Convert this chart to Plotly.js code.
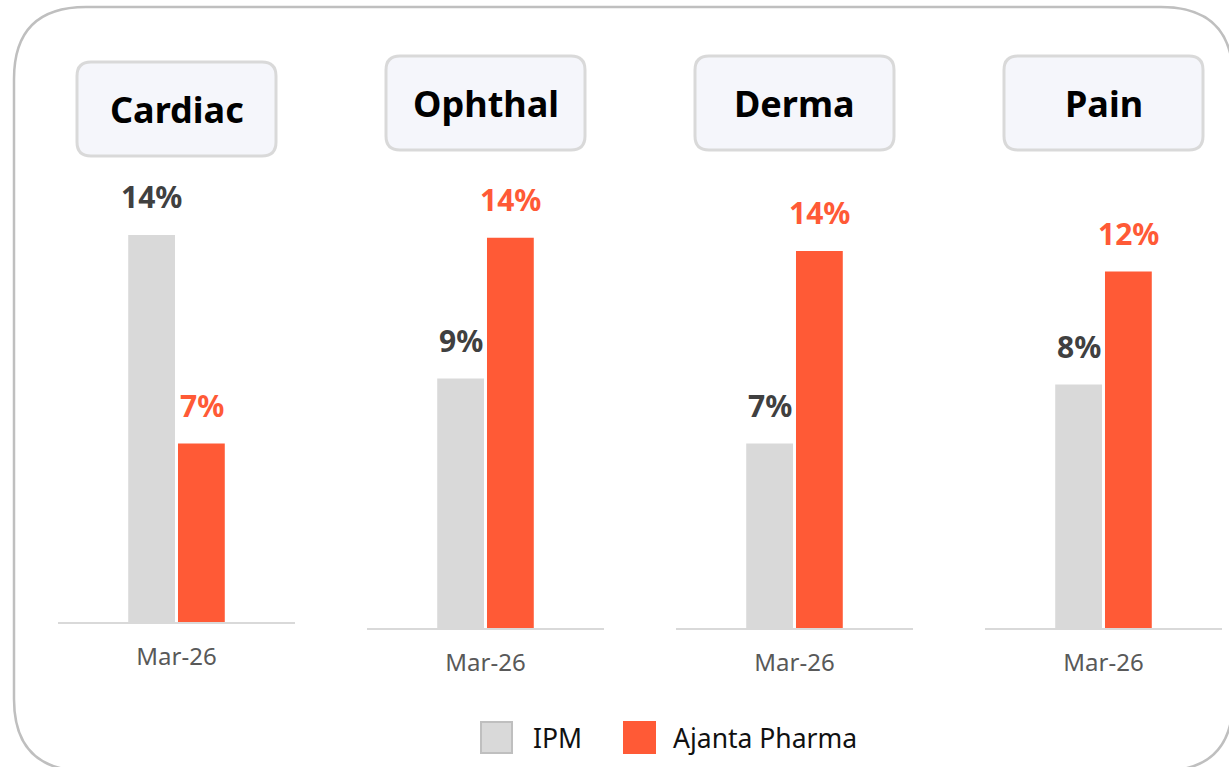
<!DOCTYPE html>
<html>
<head>
<meta charset="utf-8">
<script src="https://cdn.plot.ly/plotly-3.0.1.min.js"></script>
<style>
  html, body { margin: 0; padding: 0; background: #fff; }
  #chart { width: 1229px; height: 767px; }
</style>
</head>
<body>
<div id="chart"></div>
<script>
// data
const segments = ['Cardiac', 'Ophthal', 'Derma', 'Pain'];
const period = ['Mar-26'];
const ipmGrowth = [14.1, 9.2, 6.8, 8.4];
const ajantaGrowth = [6.5, 14.4, 13.9, 12.3];
const seriesNames = ['IPM', 'Ajanta Pharma'];

// panel geometry (pixels)
const W = 1229, H = 767;
const axisLeft = [58, 367, 676, 985];
const axisRight = [295, 604, 913, 1222];
const baseY = [622, 628, 628, 628];
const topY = 165;
const yMax = [16.65, 17.08, 17.07, 15.98];
const boxLeft = [77, 386, 695, 1004];
const boxTop = [62, 56, 56, 56];
const boxW = 199, boxH = 94;

const ipmColor = '#d9d9d9';
const ajantaColor = '#ff5a36';
const font = 'Noto Sans, Open Sans, sans-serif';

const px = x => x / W;
const py = y => 1 - y / H;

function roundRect(x0, y0, x1, y1, r) {
    const p = (x, y) => px(x) + ',' + py(y);
    return 'M' + p(x0 + r, y0) + ' L' + p(x1 - r, y0) + ' Q' + p(x1, y0) + ' ' + p(x1, y0 + r) +
        ' L' + p(x1, y1 - r) + ' Q' + p(x1, y1) + ' ' + p(x1 - r, y1) +
        ' L' + p(x0 + r, y1) + ' Q' + p(x0, y1) + ' ' + p(x0, y1 - r) +
        ' L' + p(x0, y0 + r) + ' Q' + p(x0, y0) + ' ' + p(x0 + r, y0) + ' Z';
}

const traces = [];
const annotations = [];
const shapes = [];
const layout = {
    width: W, height: H,
    margin: { l: 0, r: 0, t: 0, b: 0 },
    paper_bgcolor: '#fff',
    plot_bgcolor: 'rgba(0,0,0,0)',
    barmode: 'group',
    bargap: 0.58,
    bargroupgap: 0.06,
    showlegend: false,
    font: { family: font }
};

// outer frame
shapes.push({
    type: 'path', xref: 'paper', yref: 'paper', layer: 'below',
    path: roundRect(14, 7, 1233, 771, 72),
    line: { color: '#bfbfbf', width: 2.5 }
});

segments.forEach((seg, i) => {
    const n = i === 0 ? '' : String(i + 1);
    const xa = 'x' + n, ya = 'y' + n;

    traces.push({
        type: 'bar', x: period, y: [ipmGrowth[i]], name: seriesNames[0],
        xaxis: xa, yaxis: ya, marker: { color: ipmColor }, hoverinfo: 'skip'
    });
    traces.push({
        type: 'bar', x: period, y: [ajantaGrowth[i]], name: seriesNames[1],
        xaxis: xa, yaxis: ya, marker: { color: ajantaColor }, hoverinfo: 'skip'
    });

    layout['xaxis' + n] = {
        domain: [px(axisLeft[i]), px(axisRight[i])],
        anchor: ya,
        type: 'category',
        showline: true, linecolor: '#d9d9d9', linewidth: 2,
        showgrid: false, zeroline: false, ticks: '',
        ticklabelstandoff: 12,
        tickfont: { family: font, size: 24, color: '#595959' },
        fixedrange: true
    };
    layout['yaxis' + n] = {
        domain: [py(baseY[i]), py(topY)],
        anchor: xa,
        range: [0, yMax[i]],
        visible: false,
        fixedrange: true
    };

    // data labels
    [[ipmGrowth[i], -25, '#404040'], [ajantaGrowth[i], 25, ajantaColor]].forEach(([v, dx, c]) => {
        annotations.push({
            xref: xa, yref: ya, x: period[0], y: v,
            xshift: dx, yshift: 38, yanchor: 'middle', xanchor: 'center',
            text: '<b>' + Math.round(v) + '%</b>', showarrow: false,
            font: { family: font, size: 30, color: c }
        });
    });

    // segment title box
    shapes.push({
        type: 'path', xref: 'paper', yref: 'paper', layer: 'below',
        path: roundRect(boxLeft[i], boxTop[i], boxLeft[i] + boxW, boxTop[i] + boxH, 14),
        fillcolor: '#f5f6fb',
        line: { color: '#d9d9d9', width: 3 }
    });
    annotations.push({
        xref: 'paper', yref: 'paper',
        x: px(boxLeft[i] + boxW / 2), y: py(boxTop[i] + boxH / 2),
        xanchor: 'center', yanchor: 'middle',
        text: '<b>' + seg + '</b>', showarrow: false,
        font: { family: font, size: 36, color: '#000' }
    });
});

// legend
const legendItems = [
    { name: seriesNames[0], color: ipmColor, border: '#bfbfbf', x: 481, tx: 531 },
    { name: seriesNames[1], color: ajantaColor, border: ajantaColor, x: 624, tx: 671 }
];
legendItems.forEach(item => {
    shapes.push({
        type: 'rect', xref: 'paper', yref: 'paper',
        x0: px(item.x), x1: px(item.x + 31), y0: py(753), y1: py(722),
        fillcolor: item.color, line: { color: item.border, width: 2 }
    });
    annotations.push({
        xref: 'paper', yref: 'paper', x: px(item.tx), y: py(738),
        xanchor: 'left', yanchor: 'middle', showarrow: false,
        text: item.name, font: { family: font, size: 26.5, color: '#111' }
    });
});

layout.shapes = shapes;
layout.annotations = annotations;

Plotly.newPlot('chart', traces, layout, { displayModeBar: false, staticPlot: true });
</script>
</body>
</html>
